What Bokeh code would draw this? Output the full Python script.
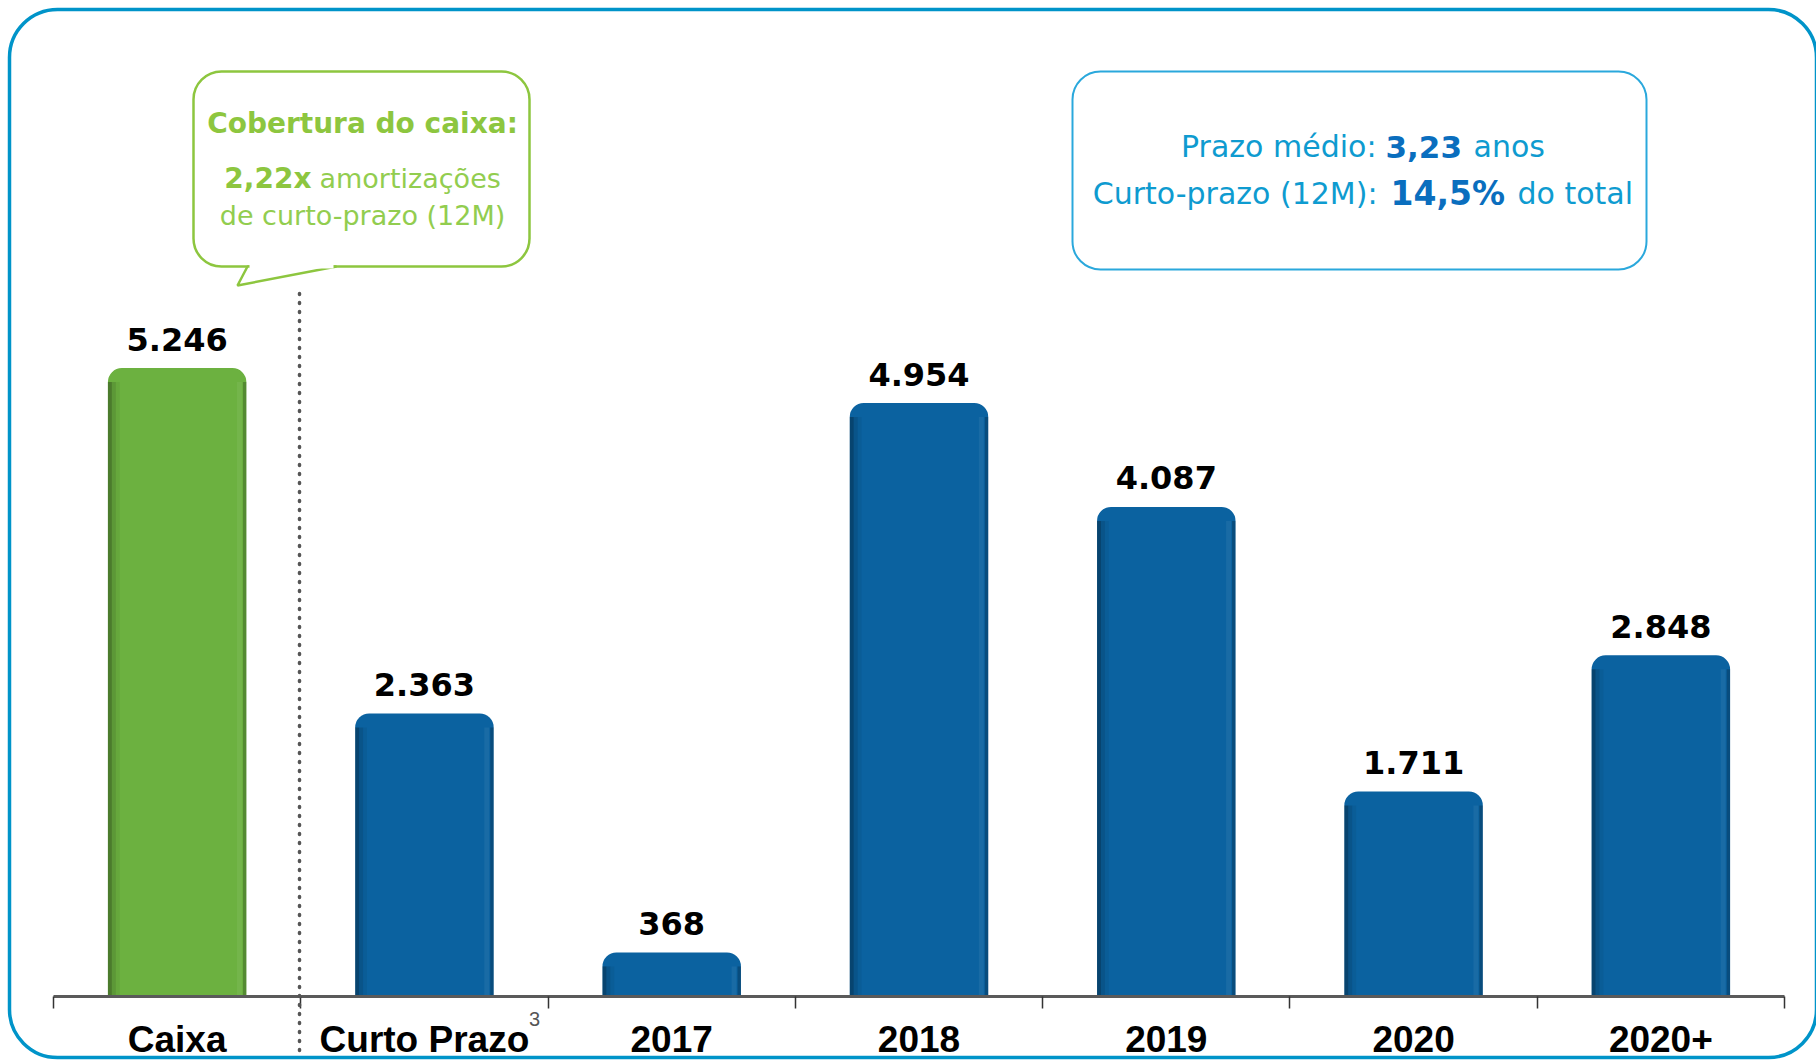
from bokeh.plotting import figure
from bokeh.models import (ColumnDataSource, FixedTicker, Range1d, Label,
                          BoxAnnotation, PolyAnnotation, Arrow)
from bokeh.core.properties import value
from bokeh.embed import file_html
from bokeh.resources import INLINE

# ---- data ----
categories = ["Caixa", "Curto Prazo", "2017", "2018", "2019", "2020", "2020+"]
amounts = [5246, 2363, 368, 4954, 4087, 1711, 2848]
bar_colors = ["#6CB140", "#0B62A0", "#0B62A0", "#0B62A0", "#0B62A0", "#0B62A0", "#0B62A0"]
value_labels = [f"{v:,}".replace(",", ".") for v in amounts]

W, H = 1816, 1060
PX_PER_UNIT = 0.1198
BASE_Y = 996            # canvas y of the baseline
PLOT_L, PLOT_R = 53, 1784
CAT_PX = (PLOT_R - PLOT_L) / len(categories)
YMAX = BASE_Y / PX_PER_UNIT
YMIN = -(H - BASE_Y) / PX_PER_UNIT
XMIN = -0.5 - PLOT_L / CAT_PX
XMAX = len(categories) - 0.5 + (W - PLOT_R) / CAT_PX

p = figure(width=W, height=H, x_range=Range1d(XMIN, XMAX),
           y_range=Range1d(YMIN, YMAX), output_backend="svg", toolbar_location=None,
           y_axis_location=None, min_border=0)
p.grid.visible = False
p.outline_line_color = None
p.background_fill_color = "white"
p.border_fill_color = "white"

# outer frame
p.add_layout(BoxAnnotation(left=9, right=1816, top=9, bottom=1057,
                           left_units="canvas", right_units="canvas",
                           top_units="canvas", bottom_units="canvas",
                           fill_alpha=0, line_color="#0094C9", line_alpha=1,
                           line_width=3.5, border_radius=48, level="underlay"))

xs = list(range(len(categories)))
src = ColumnDataSource(dict(x=xs, top=amounts, color=bar_colors, label=value_labels))
BW = 0.56
RADIUS = 14
p.vbar(x="x", top="top", width=BW, fill_color="color", line_color=None,
       border_radius=(RADIUS, RADIUS, 0, 0), source=src)

# shading strips (darker left edge, subtle right edge)
r_units = RADIUS / PX_PER_UNIT
strip_top = [v - r_units for v in amounts]
shades = [(-BW / 2 + 0.008, 0.016, "black", 0.30),
          (-BW / 2 + 0.024, 0.016, "black", 0.14),
          (-BW / 2 + 0.040, 0.016, "black", 0.05),
          (BW / 2 - 0.028, 0.02, "white", 0.06),
          (BW / 2 - 0.007, 0.014, "black", 0.22)]
for off, w, col, a in shades:
    p.vbar(x=[x + off for x in xs], top=strip_top, width=w, fill_color=col,
           fill_alpha=a, line_color=None)

p.text(x="x", y="top", text="label", source=src, text_align="center",
       text_baseline="alphabetic", y_offset=-29, text_font=value("DejaVu Sans"),
       text_font_style="bold", text_font_size="32px", text_color="black")

# x axis (drawn at the baseline, inside the frame)
ax = p.xaxis[0]
ax.fixed_location = 0
ax.bounds = (-0.5, len(categories) - 0.5)
ax.ticker = FixedTicker(ticks=xs, minor_ticks=[x - 0.5 for x in xs] + [xs[-1] + 0.5])
ax.major_label_overrides = {x: c for x, c in zip(xs, categories)}
ax.major_tick_out = 0
ax.major_tick_in = 0
ax.minor_tick_out = 12
ax.minor_tick_in = 0
ax.minor_tick_line_color = "#333333"
ax.minor_tick_line_width = 1.5
ax.axis_line_color = "#5A5A5A"
ax.axis_line_width = 3
ax.major_label_standoff = 10
ax.major_label_text_font = "Liberation Sans"
ax.major_label_text_font_style = "bold"
ax.major_label_text_font_size = "37px"
ax.major_label_text_color = "black"

# superscript 3
p.add_layout(Label(x=534, y=1018, x_units="canvas", y_units="canvas",
                   text="3", text_align="center", text_baseline="middle",
                   text_font="Liberation Sans", text_font_size="20px",
                   text_color="#555555"))

# dotted separator
p.add_layout(Arrow(end=None, x_start=299, y_start=293, x_end=299, y_end=1056,
                   start_units="canvas", end_units="canvas",
                   line_color="#555555", line_width=3.5, line_dash="1 8",
                   line_cap="round"))

# green callout
GREEN = "#8DC63F"
p.add_layout(BoxAnnotation(left=193, right=529, top=71, bottom=266,
                           left_units="canvas", right_units="canvas",
                           top_units="canvas", bottom_units="canvas",
                           fill_color="white", fill_alpha=1, line_color=GREEN,
                           line_alpha=1, line_width=2.5, border_radius=28))
p.add_layout(PolyAnnotation(xs=[247, 237, 336], ys=[266, 285, 266],
                            xs_units="canvas", ys_units="canvas",
                            fill_color="white", fill_alpha=1, line_color=GREEN,
                            line_alpha=1, line_width=2.5))
p.add_layout(Arrow(end=None, x_start=249, y_start=266, x_end=333, y_end=266,
                   start_units="canvas", end_units="canvas",
                   line_color="white", line_width=4))


def lab(x, y, text, align, size, color, bold=False):
    p.add_layout(Label(x=x, y=y, x_units="canvas", y_units="canvas",
                       text=text, text_align=align, text_baseline="middle",
                       text_font="DejaVu Sans", text_font_size=size,
                       text_font_style="bold" if bold else "normal",
                       text_color=color))


lab(362, 123, "Cobertura do caixa:", "center", "28px", GREEN, True)
lab(311, 178, "2,22x", "right", "28px", GREEN, True)
lab(319, 178, "amortizações", "left", "27px", "#92CD4F")
lab(362, 215, "de curto-prazo (12M)", "center", "27px", "#92CD4F")

# blue box
p.add_layout(BoxAnnotation(left=1072, right=1646, top=71, bottom=269,
                           left_units="canvas", right_units="canvas",
                           top_units="canvas", bottom_units="canvas",
                           fill_color="white", fill_alpha=1, line_color="#2AA8DC",
                           line_alpha=1, line_width=2, border_radius=28))
LB = "#0E9BD0"
DB = "#0A6EBE"
lab(1376, 146, "Prazo médio:", "right", "30px", LB)
lab(1385, 146, "3,23", "left", "31px", DB, True)
lab(1473, 146, "anos", "left", "30px", LB)
lab(1377, 193, "Curto-prazo (12M):", "right", "30px", LB)
lab(1390, 193, "14,5%", "left", "33px", DB, True)
lab(1517, 193, "do total", "left", "30px", LB)

open("out.html", "w").write(file_html(p, INLINE))
